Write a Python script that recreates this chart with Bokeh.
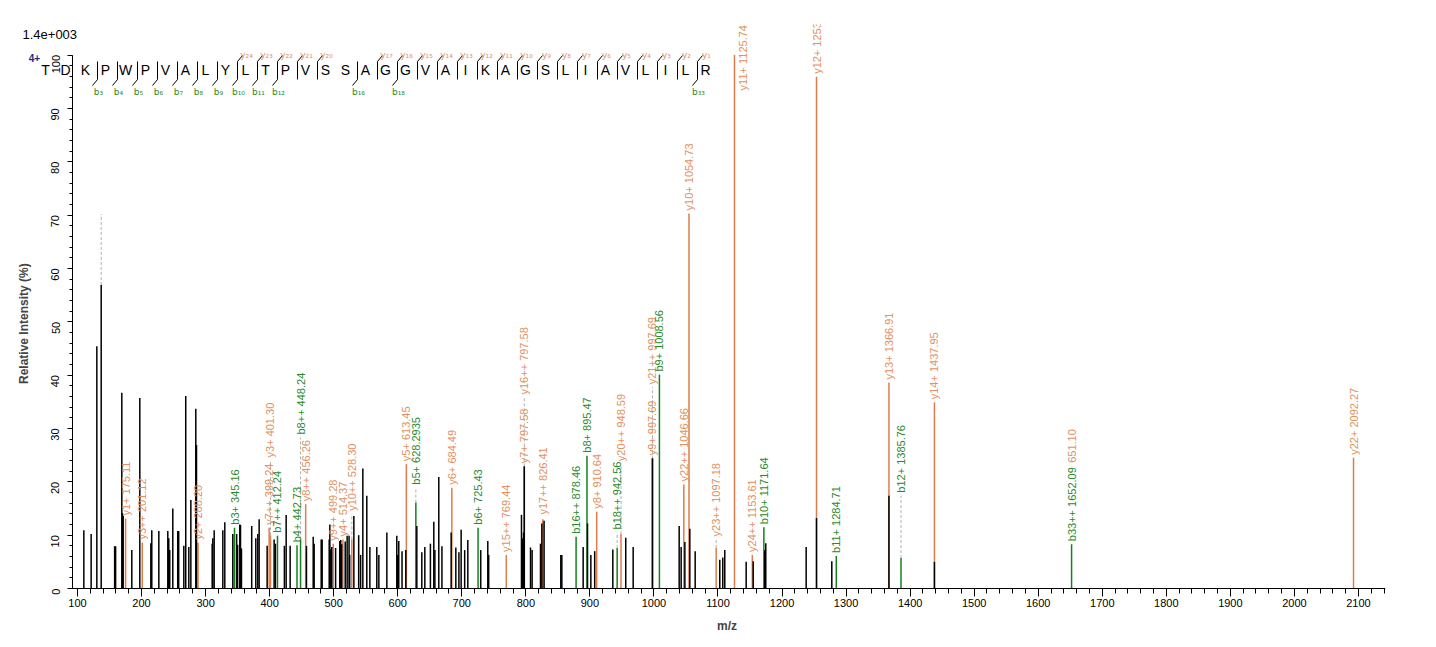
from math import pi
from bokeh.plotting import figure
from bokeh.models import Range1d, FixedTicker, ColumnDataSource
from bokeh.embed import file_html
from bokeh.resources import INLINE
from bokeh.core.properties import value

# ---------------- data ----------------
# unannotated (experimental) peaks: m/z and relative intensity (%)
peak_mz = [109.9, 121.3, 130.2, 137.0, 158.0, 159.5, 169.2, 170.3, 171.3, 184.8,
           197.3, 214.5, 216.0, 227.0, 241.0, 242.5, 244.0, 248.8, 256.5, 258.0,
           266.0, 269.0, 273.8, 277.0, 284.7, 285.8, 310.3, 311.3, 313.4, 326.9,
           330.0, 342.5, 348.5, 350.0, 353.4, 354.5, 356.0, 372.0, 378.4, 381.5,
           383.6, 396.1, 407.0, 409.0, 423.0, 425.8, 432.0, 457.5, 468.0, 469.5,
           480.5, 482.0, 493.0, 494.0, 495.5, 497.0, 503.0, 509.5, 511.0, 512.5,
           518.0, 521.0, 524.0, 525.0, 531.5, 539.0, 542.0, 545.5, 551.7, 556.5,
           567.3, 570.5, 583.0, 598.5, 600.0, 601.6, 606.7, 612.6, 629.8, 637.6,
           642.3, 651.0, 656.3, 658.0, 664.1, 669.0, 683.4, 690.7, 695.5, 699.0,
           704.5, 709.4, 729.6, 740.6, 742.0, 793.2, 794.8, 796.4, 797.58, 807.3,
           809.8, 822.9, 825.0, 828.5, 854.6, 856.2, 889.5, 896.3, 901.5, 907.5,
           935.8, 956.0, 967.6, 997.69, 1039.4, 1042.5, 1048.3, 1056.0, 1064.4, 1102.8,
           1107.5, 1110.6, 1144.0, 1155.0, 1173.0, 1174.6, 1237.7, 1253.83, 1277.7, 1366.91,
           1437.95]
peak_int = [10.9, 10.2, 45.4, 56.9, 7.9, 7.9, 36.7, 14.1, 13.6, 7.2,
            35.7, 8.5, 10.9, 10.8, 10.8, 9.4, 7.2, 15.0, 10.8, 10.8,
            8.0, 36.1, 7.8, 16.6, 33.7, 26.9, 8.4, 9.4, 10.9, 10.9,
            12.4, 10.2, 10.2, 8.2, 12.0, 11.9, 7.5, 11.7, 9.4, 10.2,
            13.0, 8.0, 9.2, 8.4, 8.0, 13.8, 8.0, 8.0, 9.7, 8.4,
            9.2, 9.2, 9.2, 12.0, 7.3, 7.8, 7.6, 8.9, 9.1, 8.3,
            8.8, 9.9, 9.9, 6.3, 13.6, 10.0, 6.3, 22.5, 17.4, 7.8,
            7.8, 6.3, 10.5, 9.9, 6.3, 8.9, 7.0, 7.2, 11.7, 6.8,
            7.8, 8.4, 12.5, 7.2, 20.9, 7.9, 10.5, 7.7, 6.8, 11.0,
            7.2, 9.1, 7.2, 8.9, 6.3, 13.8, 9.4, 10.5, 22.9, 7.7,
            7.2, 8.4, 12.2, 12.7, 6.3, 6.3, 7.8, 12.2, 6.3, 7.0,
            7.3, 9.5, 7.8, 24.4, 11.7, 7.8, 8.7, 11.2, 7.0, 5.4,
            5.8, 7.2, 5.0, 5.1, 7.2, 8.5, 7.8, 13.2, 5.1, 17.4,
            5.0]

# annotated fragment ions
ion_label = ["y1+ 175.11", "y3++ 201.12", "y2+ 288.20", "b3+ 345.16", "y7++ 399.24",
             "y3+ 401.30", "b7++ 412.24", "b4+ 442.73", "b8++ 448.24", "y8++ 456.26",
             "y9++ 499.28", "y4+ 514.37", "y10++ 528.30", "y5+ 613.45", "b5+ 628.2935",
             "y6+ 684.49", "b6+ 725.43", "y15++ 769.44", "y7+ 797.58", "y16++ 797.58",
             "y17++ 826.41", "b16++ 878.46", "b8+ 895.47", "y8+ 910.64", "b18++ 942.56",
             "y20++ 948.59", "y9+ 997.69", "y21++ 997.69", "b9+ 1008.56", "y22++ 1046.66",
             "y10+ 1054.73", "y23++ 1097.18", "y11+ 1125.74", "y24++ 1153.61", "b10+ 1171.64",
             "y12+ 1253.83", "b11+ 1284.71", "y13+ 1366.91", "b12+ 1385.76", "y14+ 1437.95",
             "b33++ 1652.09", "y22+ 2092.27"]
ion_mz = [175.11, 201.12, 288.20, 345.16, 399.24, 401.30, 412.24, 442.73, 448.24, 456.26,
          499.28, 514.37, 528.30, 613.45, 628.29, 684.49, 725.43, 769.44, 797.58, 797.58,
          826.41, 878.46, 895.47, 910.64, 942.56, 948.59, 997.69, 997.69, 1008.56, 1046.66,
          1054.73, 1097.18, 1125.74, 1153.61, 1171.64, 1253.83, 1284.71, 1366.91, 1385.76, 1437.95,
          1652.09, 2092.27]
ion_int = [13.1, 8.6, 8.6, 11.4, 11.4, 10.0, 9.9, 8.1, 9.2, 15.8,
           8.4, 9.2, 9.2, 23.3, 16.1, 18.9, 11.4, 6.3, 22.9, 22.9,
           13.0, 9.7, 24.9, 14.4, 7.6, 10.2, 24.4, 24.4, 40.1, 19.5,
           70.3, 7.6, 100.0, 6.3, 11.5, 95.9, 6.1, 38.6, 5.7, 34.9,
           8.3, 24.5]
ion_series = ["y", "y", "y", "b", "y", "y", "b", "b", "b", "y",
              "y", "y", "y", "y", "b", "y", "b", "y", "y", "y",
              "y", "b", "b", "y", "b", "y", "y", "y", "b", "y",
              "y", "y", "y", "y", "b", "y", "b", "y", "b", "y",
              "b", "y"]
# level (%) where each label starts (layout)
label_level = [13.1, 8.6, 8.6, 11.4, 11.4, 24.0, 9.9, 8.1, 28.3, 15.8,
               8.4, 9.2, 14.0, 23.3, 18.9, 18.9, 11.4, 6.3, 22.9, 35.8,
               13.3, 9.7, 24.9, 14.4, 10.5, 23.3, 24.4, 37.7, 40.1, 19.5,
               70.3, 9.2, 92.8, 6.3, 11.5, 95.9, 6.1, 38.6, 17.4, 34.9,
               8.3, 24.5]
label_dx = [0] * len(ion_label)
label_dx[32] = 9

# partially hidden extra label text next to b33++
extra_text = ["651.10"]
extra_mz = [1652.09]
extra_level = [23.0]

# dashed marker above the 137 peak
mark_mz = [137.0]
mark_from = [56.9]
mark_to = [70.2]

sequence = "TDKPWPVALYLTPVSSAGGVAIKAGSLIAVLILR"
b_frag = [3, 4, 5, 6, 7, 8, 9, 10, 11, 12, 16, 18, 33]
y_frag = [24, 23, 22, 21, 20, 17, 16, 15, 14, 13, 12, 11, 10, 9, 8, 7, 6, 5, 4, 3, 2, 1]

x_ticks = list(range(100, 2101, 100))
x_minor = list(range(100, 2141, 20))
y_ticks = list(range(0, 101, 10))
y_minor = list(range(0, 101, 2))

# ---------------- styling / layout ----------------
ORANGE_LINE = "#e07c4c"
ORANGE_TEXT = "#e39060"
GREEN_LINE = "#13821a"
GREEN_TEXT = "#2b8a2b"
FONT = "Liberation Sans"

W, H = 1420, 640
# pixel geometry of the plotting area (canvas pixels)
AX_PX, FR, FT, ZERO_PX = 72, 1385, 24, 588
MZ_AT_AXIS = 92.2
SCALE = (FR - AX_PX) / 2050.0        # px per m/z unit
YSCALE = 5.335                       # px per % intensity
XR = (MZ_AT_AXIS - AX_PX / SCALE, MZ_AT_AXIS + (FR - AX_PX) / SCALE)
YR = (-(H - ZERO_PX) / YSCALE, (ZERO_PX - FT) / YSCALE)


def mz_at(px):
    return XR[0] + px / SCALE


def lvl_at(py):
    return (ZERO_PX - py) / YSCALE


p = figure(width=W, height=H, x_range=Range1d(*XR), y_range=Range1d(*YR),
           output_backend="svg", toolbar_location=None, title=None,
           min_border_left=0, min_border_right=W - FR,
           min_border_top=FT, min_border_bottom=0)
p.xgrid.visible = False
p.ygrid.visible = False
p.outline_line_color = None
p.background_fill_color = "white"
p.border_fill_color = "white"

xa = p.xaxis[0]
xa.fixed_location = 0
xa.ticker = FixedTicker(ticks=x_ticks, minor_ticks=x_minor)
xa.bounds = (mz_at(AX_PX - 4), XR[1])
xa.major_tick_in = 0
xa.minor_tick_in = 0
xa.major_tick_out = 8
xa.minor_tick_out = 5
xa.major_label_standoff = 2
xa.major_label_text_font = FONT
xa.major_label_text_font_size = "11px"
xa.major_label_text_color = "black"
xa.axis_label = "m/z"
xa.axis_label_text_font = FONT
xa.axis_label_text_font_style = "bold"
xa.axis_label_text_font_size = "12px"
xa.axis_label_standoff = 9
xa.axis_line_color = "black"

ya = p.yaxis[0]
ya.fixed_location = MZ_AT_AXIS
ya.ticker = FixedTicker(ticks=y_ticks, minor_ticks=y_minor)
ya.bounds = (0, 100)
ya.major_tick_in = 0
ya.minor_tick_in = 0
ya.major_tick_out = 5
ya.minor_tick_out = 3
ya.major_label_orientation = pi / 2
ya.major_label_standoff = 12
ya.major_label_text_font = FONT
ya.major_label_text_font_size = "11px"
ya.major_label_text_color = "black"
ya.axis_label = "Relative  Intensity (%)"
ya.axis_label_text_font = FONT
ya.axis_label_text_font_style = "bold"
ya.axis_label_text_font_size = "12px"
ya.axis_label_standoff = 14
ya.axis_line_color = "black"

# annotated ion lines
line_col = [ORANGE_LINE if s == "y" else GREEN_LINE for s in ion_series]
text_col = [ORANGE_TEXT if s == "y" else GREEN_TEXT for s in ion_series]
ions = ColumnDataSource(dict(mz=ion_mz, inten=ion_int, zero=[0] * len(ion_mz),
                             lab=ion_label, lvl=label_level, dx=label_dx,
                             lc=line_col, tc=text_col))
p.segment(x0="mz", y0="zero", x1="mz", y1="inten", line_color="lc",
          line_width=1.5, source=ions)

# dashed connectors where a label was lifted above its peak
lifted = [k for k in range(len(ion_mz)) if label_level[k] - ion_int[k] > 1.5]
con_x = [ion_mz[k] for k in lifted] + mark_mz
con_y0 = [ion_int[k] for k in lifted] + mark_from
con_y1 = [label_level[k] for k in lifted] + mark_to
p.segment(x0=con_x, y0=con_y0, x1=con_x, y1=con_y1, line_color="#b0b0b0",
          line_width=1, line_dash="3 2")

# experimental peaks
p.segment(x0=peak_mz, y0=[0] * len(peak_mz), x1=peak_mz, y1=peak_int,
          line_color="black", line_width=1.5)

# ion labels
p.text(x="mz", y="lvl", text="lab", angle=pi / 2, text_align="left",
       text_baseline="middle", text_color="tc", text_font=value(FONT),
       text_font_size="11px", x_offset="dx", y_offset=-3, source=ions)
p.text(x=extra_mz, y=extra_level, text=extra_text, angle=pi / 2, text_align="left",
       text_baseline="middle", text_color=ORANGE_TEXT, text_font=value(FONT),
       text_font_size="11px", y_offset=-3)

# ---------------- peptide sequence with fragment brackets ----------------
LET_X0, LET_DX, LET_Y = 45, 20, 69
p.text(x=[mz_at(LET_X0 + LET_DX * i) for i in range(len(sequence))],
       y=[lvl_at(LET_Y)] * len(sequence), text=list(sequence),
       text_align="center", text_baseline="middle", text_font=value(FONT),
       text_font_size="14px", text_color="black")


def bond_px(k):
    return LET_X0 + LET_DX * (k - 1) + 12


bonds = sorted(set(b_frag) | set(34 - j for j in y_frag))
p.segment(x0=[mz_at(bond_px(k)) for k in bonds], y0=[lvl_at(61)] * len(bonds),
          x1=[mz_at(bond_px(k)) for k in bonds], y1=[lvl_at(79)] * len(bonds),
          line_color="black", line_width=1)
yb = [34 - j for j in y_frag]
p.segment(x0=[mz_at(bond_px(k)) for k in yb], y0=[lvl_at(61)] * len(yb),
          x1=[mz_at(bond_px(k) + 5) for k in yb], y1=[lvl_at(55)] * len(yb),
          line_color="black", line_width=1)
p.segment(x0=[mz_at(bond_px(k)) for k in b_frag], y0=[lvl_at(79)] * len(b_frag),
          x1=[mz_at(bond_px(k) - 5) for k in b_frag], y1=[lvl_at(85)] * len(b_frag),
          line_color="black", line_width=1)

SUB = str.maketrans("0123456789", "₀₁₂₃₄₅₆₇₈₉")
p.text(x=[mz_at(bond_px(k) + 9) for k in yb], y=[lvl_at(54)] * len(yb),
       text=["y" + str(j).translate(SUB) for j in y_frag], text_align="center",
       text_baseline="middle", text_color=ORANGE_TEXT, text_font=value("DejaVu Sans"),
       text_font_size="9px")
p.text(x=[mz_at(bond_px(k) + 1) for k in b_frag], y=[lvl_at(91)] * len(b_frag),
       text=["b" + str(k).translate(SUB) for k in b_frag], text_align="center",
       text_baseline="middle", text_color=GREEN_TEXT, text_font=value("DejaVu Sans"),
       text_font_size="9px")

# scale and charge notes
p.text(x=[mz_at(22)], y=[lvl_at(34)], text=["1.4e+003"], text_align="left",
       text_baseline="middle", text_font=value(FONT), text_font_size="13px",
       text_color="black")
p.text(x=[mz_at(34)], y=[lvl_at(57)], text=["4+"], text_align="center",
       text_baseline="middle", text_font=value(FONT), text_font_size="10px",
       text_font_style="bold", text_color="#1c2a8c")

open("out.html", "w").write(file_html(p, INLINE))
